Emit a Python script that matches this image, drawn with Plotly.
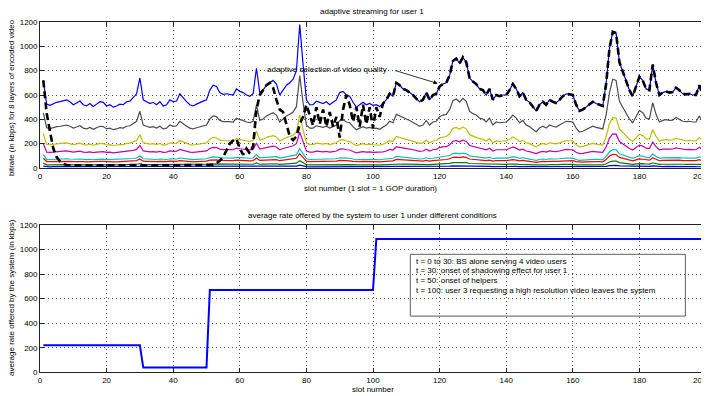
import plotly.graph_objects as go

slots = list(range(1, 201))

# cumulative bitrate of each of the 8 layers (kbps), layer 1 (lowest) .. layer 8 (highest)
layer1 = [15, 11, 10, 11, 11, 11, 11, 11, 11, 10,
          11, 11, 10, 10, 11, 10, 11, 11, 11, 10,
          10, 10, 10, 11, 10, 11, 11, 12, 12, 15,
          11, 11, 11, 11, 10, 11, 10, 10, 11, 11,
          11, 12, 12, 11, 10, 10, 11, 11, 11, 11,
          13, 14, 13, 12, 12, 12, 12, 12, 13, 13,
          12, 12, 12, 12, 16, 12, 13, 14, 14, 14,
          14, 12, 13, 14, 14, 15, 16, 24, 17, 11,
          10, 10, 11, 11, 11, 11, 10, 11, 11, 12,
          13, 12, 12, 11, 10, 10, 11, 10, 11, 10,
          10, 10, 11, 11, 12, 12, 14, 14, 13, 13,
          12, 12, 11, 11, 11, 12, 11, 12, 12, 13,
          14, 14, 15, 18, 18, 17, 18, 17, 15, 14,
          14, 13, 13, 12, 13, 11, 12, 12, 12, 12,
          13, 14, 13, 12, 12, 11, 11, 10, 9, 10,
          11, 10, 11, 11, 11, 11, 12, 12, 12, 12,
          10, 9, 10, 10, 10, 11, 11, 10, 10, 14,
          20, 22, 22, 17, 16, 14, 13, 12, 13, 15,
          14, 13, 13, 17, 14, 12, 12, 13, 12, 13,
          13, 13, 12, 12, 12, 12, 12, 14, 12, 9]
layer2 = [40, 26, 26, 27, 27, 27, 28, 28, 27, 26,
          27, 28, 26, 26, 27, 25, 26, 27, 27, 26,
          26, 25, 26, 26, 26, 27, 28, 29, 31, 37,
          28, 27, 27, 27, 26, 27, 26, 26, 28, 27,
          28, 31, 29, 27, 26, 26, 26, 27, 28, 28,
          32, 34, 34, 31, 30, 31, 30, 30, 33, 32,
          31, 30, 30, 31, 41, 31, 32, 34, 35, 36,
          35, 30, 32, 34, 35, 37, 40, 59, 43, 28,
          26, 26, 28, 27, 27, 27, 26, 27, 28, 31,
          32, 30, 30, 27, 25, 26, 27, 26, 27, 26,
          26, 25, 27, 28, 31, 30, 35, 34, 33, 32,
          31, 30, 29, 27, 28, 31, 28, 30, 31, 34,
          35, 35, 38, 44, 45, 43, 46, 44, 37, 36,
          35, 33, 32, 30, 33, 28, 30, 30, 30, 30,
          32, 35, 33, 30, 31, 28, 27, 25, 24, 26,
          27, 26, 28, 27, 27, 28, 30, 31, 30, 30,
          26, 24, 24, 25, 26, 27, 27, 26, 26, 35,
          49, 56, 56, 44, 40, 36, 32, 30, 34, 38,
          36, 33, 32, 43, 35, 30, 31, 32, 31, 31,
          33, 32, 31, 30, 31, 30, 30, 34, 30, 24]
layer3 = [80, 53, 52, 53, 54, 55, 56, 56, 55, 52,
          54, 55, 52, 51, 53, 51, 53, 55, 54, 51,
          52, 50, 51, 53, 52, 55, 55, 58, 61, 74,
          56, 55, 53, 54, 52, 55, 51, 52, 56, 55,
          55, 61, 58, 55, 52, 51, 53, 54, 55, 56,
          64, 68, 67, 62, 61, 61, 61, 60, 65, 63,
          62, 60, 59, 61, 82, 62, 64, 68, 70, 72,
          69, 60, 64, 68, 70, 73, 80, 118, 85, 56,
          52, 52, 55, 54, 53, 55, 52, 54, 56, 62,
          63, 60, 59, 54, 50, 52, 54, 52, 53, 52,
          52, 51, 53, 56, 61, 59, 70, 68, 65, 64,
          62, 60, 57, 55, 56, 62, 56, 60, 61, 67,
          69, 70, 76, 88, 90, 86, 91, 87, 74, 71,
          69, 65, 64, 60, 65, 56, 60, 59, 60, 60,
          64, 69, 65, 59, 62, 56, 54, 50, 47, 52,
          55, 52, 56, 55, 54, 56, 59, 61, 61, 60,
          52, 47, 48, 50, 52, 55, 53, 52, 51, 69,
          98, 112, 111, 87, 79, 72, 64, 59, 67, 75,
          72, 65, 64, 85, 70, 60, 62, 63, 62, 63,
          66, 64, 61, 61, 61, 60, 60, 68, 60, 47]
layer4 = [110, 71, 70, 72, 73, 74, 75, 76, 74, 70,
          72, 74, 70, 69, 72, 68, 71, 74, 73, 69,
          70, 68, 69, 71, 70, 74, 74, 78, 82, 100,
          76, 74, 72, 73, 70, 74, 69, 70, 76, 74,
          74, 82, 78, 74, 70, 69, 71, 73, 74, 76,
          86, 92, 90, 84, 82, 82, 82, 81, 88, 85,
          84, 81, 80, 82, 111, 84, 86, 92, 95, 97,
          93, 81, 86, 92, 95, 99, 108, 159, 115, 76,
          70, 70, 74, 73, 72, 74, 70, 73, 76, 84,
          85, 81, 80, 73, 68, 70, 73, 70, 72, 70,
          70, 68, 72, 76, 82, 80, 95, 92, 88, 86,
          84, 81, 77, 74, 76, 84, 76, 81, 82, 90,
          93, 95, 103, 119, 122, 116, 123, 117, 100, 96,
          93, 88, 86, 81, 88, 76, 81, 80, 81, 81,
          86, 93, 88, 80, 84, 76, 73, 68, 63, 70,
          74, 70, 76, 74, 72, 76, 80, 82, 82, 81,
          70, 63, 65, 68, 70, 74, 72, 70, 69, 93,
          132, 151, 150, 117, 107, 97, 86, 80, 90, 101,
          97, 88, 86, 115, 95, 81, 84, 85, 84, 84,
          89, 86, 82, 82, 82, 81, 81, 92, 81, 63]
layer5 = [200, 131, 129, 133, 135, 136, 139, 140, 136, 130,
          134, 138, 130, 128, 133, 126, 131, 136, 135, 128,
          130, 125, 128, 131, 130, 136, 138, 145, 153, 185,
          140, 136, 133, 135, 130, 136, 128, 130, 140, 136,
          138, 153, 144, 136, 130, 128, 131, 135, 138, 140,
          160, 170, 168, 155, 151, 153, 151, 150, 163, 158,
          155, 150, 148, 153, 205, 155, 160, 170, 175, 180,
          173, 150, 160, 170, 175, 183, 200, 295, 213, 140,
          130, 130, 138, 135, 133, 136, 130, 135, 140, 155,
          158, 150, 148, 135, 125, 130, 135, 130, 133, 129,
          130, 126, 133, 140, 153, 148, 175, 170, 163, 160,
          155, 150, 143, 136, 140, 155, 140, 150, 153, 168,
          173, 175, 190, 220, 225, 215, 228, 218, 185, 178,
          173, 163, 160, 150, 163, 140, 150, 148, 150, 150,
          160, 173, 163, 148, 155, 140, 135, 125, 118, 130,
          136, 130, 140, 136, 134, 140, 148, 153, 151, 150,
          130, 118, 120, 125, 130, 136, 133, 130, 128, 173,
          245, 280, 278, 218, 198, 180, 160, 148, 168, 188,
          180, 163, 160, 213, 175, 150, 155, 158, 155, 156,
          165, 160, 153, 151, 153, 150, 150, 170, 150, 118]
layer6 = [283, 194, 191, 196, 200, 202, 205, 207, 202, 192,
          198, 204, 192, 189, 196, 187, 194, 202, 200, 189,
          192, 185, 189, 194, 192, 202, 204, 215, 226, 274,
          207, 202, 196, 200, 192, 202, 189, 192, 207, 202,
          204, 226, 213, 202, 192, 189, 194, 200, 204, 207,
          237, 252, 248, 229, 224, 226, 224, 222, 241, 233,
          229, 222, 218, 226, 303, 229, 237, 252, 259, 266,
          255, 222, 237, 252, 259, 270, 296, 437, 315, 207,
          192, 192, 204, 200, 196, 202, 192, 200, 207, 229,
          233, 222, 218, 200, 185, 192, 200, 192, 196, 191,
          192, 187, 196, 207, 226, 218, 259, 252, 241, 237,
          229, 222, 211, 202, 207, 229, 207, 222, 226, 248,
          255, 259, 281, 326, 333, 318, 337, 322, 274, 263,
          255, 241, 237, 222, 241, 207, 222, 218, 222, 222,
          237, 255, 241, 218, 229, 207, 200, 185, 174, 192,
          202, 192, 207, 202, 198, 207, 218, 226, 224, 222,
          192, 174, 178, 185, 192, 202, 196, 192, 189, 255,
          363, 414, 411, 322, 292, 266, 237, 218, 248, 278,
          266, 241, 237, 315, 259, 222, 229, 233, 229, 231,
          244, 237, 226, 224, 226, 222, 222, 252, 222, 174]
layer7 = [454, 331, 324, 334, 340, 343, 350, 353, 343, 328,
          337, 347, 328, 321, 334, 318, 331, 343, 340, 321,
          328, 315, 321, 331, 328, 343, 347, 365, 384, 466,
          353, 343, 334, 340, 328, 343, 321, 328, 353, 343,
          347, 384, 362, 343, 328, 321, 331, 340, 347, 353,
          403, 428, 422, 391, 381, 384, 381, 378, 410, 397,
          391, 378, 372, 384, 517, 391, 403, 428, 441, 454,
          435, 378, 403, 428, 441, 460, 504, 760, 536, 353,
          328, 328, 347, 340, 334, 343, 328, 340, 353, 391,
          397, 378, 372, 340, 315, 328, 340, 328, 334, 324,
          328, 318, 334, 353, 384, 372, 441, 428, 410, 403,
          391, 378, 359, 343, 353, 391, 353, 378, 384, 422,
          435, 441, 479, 554, 567, 542, 573, 548, 466, 447,
          435, 410, 403, 378, 410, 353, 378, 372, 378, 378,
          403, 435, 410, 372, 391, 353, 340, 315, 296, 328,
          343, 328, 353, 343, 337, 353, 372, 384, 381, 378,
          328, 296, 302, 315, 328, 343, 334, 328, 321, 435,
          617, 730, 720, 548, 498, 454, 403, 372, 422, 473,
          454, 410, 403, 536, 441, 378, 391, 397, 391, 394,
          416, 403, 384, 381, 384, 378, 378, 428, 378, 296]
layer8 = [720, 525, 515, 530, 540, 545, 555, 560, 545, 520,
          535, 550, 520, 510, 530, 505, 525, 545, 540, 510,
          520, 500, 510, 525, 520, 545, 550, 580, 610, 740,
          560, 545, 530, 540, 520, 545, 510, 520, 560, 545,
          550, 610, 575, 545, 520, 510, 525, 540, 550, 560,
          640, 680, 670, 620, 605, 610, 605, 600, 650, 630,
          620, 600, 590, 610, 820, 620, 640, 680, 700, 720,
          690, 600, 640, 680, 700, 730, 800, 1180, 850, 560,
          520, 520, 550, 540, 530, 545, 520, 540, 560, 620,
          630, 600, 590, 540, 500, 520, 540, 520, 530, 515,
          520, 505, 530, 560, 610, 590, 700, 680, 650, 640,
          620, 600, 570, 545, 560, 620, 560, 600, 610, 670,
          690, 700, 760, 880, 900, 860, 910, 870, 740, 710,
          690, 650, 640, 600, 650, 560, 600, 590, 600, 600,
          640, 690, 650, 590, 620, 560, 540, 500, 470, 520,
          545, 520, 560, 545, 535, 560, 590, 610, 605, 600,
          520, 470, 480, 500, 520, 545, 530, 520, 510, 690,
          980, 1120, 1110, 870, 790, 720, 640, 590, 670, 750,
          720, 650, 640, 850, 700, 600, 620, 630, 620, 625,
          660, 640, 610, 605, 610, 600, 600, 680, 600, 470]

# rate of the adaptively selected video quality (kbps)
selected = [720, 450, 300, 160, 90, 55, 35, 25, 22, 20,
            20, 20, 20, 20, 20, 20, 20, 20, 20, 20,
            20, 20, 20, 20, 20, 20, 20, 22, 24, 28,
            20, 20, 20, 20, 20, 20, 20, 20, 20, 20,
            20, 22, 20, 20, 20, 20, 20, 20, 20, 20,
            22, 26, 40, 60, 90, 140, 200, 225, 240, 160,
            110, 160, 120, 180, 480, 600, 640, 680, 700, 660,
            560, 480, 460, 350, 260, 230, 260, 360, 420, 520,
            430, 350, 500, 360, 480, 340, 460, 340, 420, 250,
            480, 600, 520, 380, 500, 340, 520, 360, 500, 330,
            500, 420, 530, 560, 610, 590, 700, 680, 650, 640,
            620, 600, 570, 545, 560, 620, 560, 600, 610, 670,
            690, 700, 760, 880, 900, 860, 910, 870, 740, 710,
            690, 650, 640, 600, 650, 560, 600, 590, 600, 600,
            640, 690, 650, 590, 620, 560, 540, 500, 470, 520,
            545, 520, 560, 545, 535, 560, 590, 610, 605, 600,
            520, 470, 480, 500, 520, 545, 530, 520, 510, 690,
            980, 1120, 1110, 870, 790, 720, 640, 590, 670, 750,
            720, 650, 640, 850, 700, 600, 620, 630, 620, 625,
            660, 640, 610, 605, 610, 600, 600, 680, 600, 20]

# average rate offered to user 1 (step breakpoints)
rate_slots = [1, 30, 31, 50, 51, 100, 101, 200]
rate_values = [220, 220, 40, 40, 670, 670, 1085, 1085]

events = ["t = 0 to 30: BS alone serving 4 video users",
          "t = 30: onset of shadowing effect for user 1",
          "t = 50: onset of helpers",
          "t = 100: user 3 requesting a high resolution video leaves the system"]

x_ticks = list(range(0, 201, 20))
x_tick_labels = [str(v) for v in x_ticks[:-1]] + [""]   # last label drawn separately
last_x_label = str(x_ticks[-1])
y_ticks = list(range(0, 1201, 200))

layers = [layer1, layer2, layer3, layer4, layer5, layer6, layer7, layer8]
layer_colors = ["#0000FF", "#008000", "#FF0000", "#00BFBF",
                "#BF00BF", "#BFBF00", "#4D4D4D", "#0000FF"]

FONT = "Liberation Sans, Arial, Helvetica, sans-serif"
OFF = 8                      # the page places the figure 8 px from the top-left corner
W, H = 709 - OFF, 396 - OFF
def px(v):                   # window pixel -> figure pixel
    return v - OFF

XL, XR = px(40), px(706)

fig = go.Figure()
for vals, col in zip(layers, layer_colors):
    fig.add_trace(go.Scatter(x=slots, y=vals, mode="lines",
                             line=dict(color=col, width=1.2),
                             xaxis="x", yaxis="y", showlegend=False))
fig.add_trace(go.Scatter(x=slots, y=selected, mode="lines",
                         line=dict(color="black", width=2.6, dash="7px,4px"),
                         xaxis="x", yaxis="y", showlegend=False))
fig.add_trace(go.Scatter(x=rate_slots, y=rate_values, mode="lines",
                         line=dict(color="#0000FF", width=2),
                         xaxis="x2", yaxis="y2", showlegend=False))

axis_common = dict(showgrid=True, gridcolor="#555555", griddash="1px,3px", gridwidth=0.8,
                   zeroline=False, showline=True, linecolor="#222222", linewidth=0.8,
                   mirror="ticks", ticks="inside", ticklen=4, tickcolor="#222222",
                   automargin=False,
                   tickfont=dict(family=FONT, size=8, color="black"))

xdom = [XL / W, XR / W]
def ydom(top, bottom):
    return [1 - px(bottom) / H, 1 - px(top) / H]

fig.update_layout(
    width=W, height=H,
    margin=dict(l=0, r=0, t=0, b=0, autoexpand=False),
    paper_bgcolor="white", plot_bgcolor="white",
    font=dict(family=FONT, size=8, color="black"),
    xaxis=dict(domain=xdom, range=[0, 200], tickvals=x_ticks, ticktext=x_tick_labels,
               anchor="y", **axis_common),
    yaxis=dict(domain=ydom(22, 168), range=[0, 1200], tickvals=y_ticks,
               anchor="x", **axis_common),
    xaxis2=dict(domain=xdom, range=[0, 200], tickvals=x_ticks, ticktext=x_tick_labels,
                anchor="y2", **axis_common),
    yaxis2=dict(domain=ydom(225, 372.3), range=[0, 1200], tickvals=y_ticks,
                anchor="x2", **axis_common),
)

ann = []
def ptext(txt, x, y, angle=0, xanchor="center", size=8):
    ann.append(dict(text=txt, x=px(x) / W, y=1 - px(y) / H, xref="paper", yref="paper",
                    showarrow=False, textangle=angle, xanchor=xanchor, yanchor="middle",
                    font=dict(family=FONT, size=size, color="black")))

ptext("adaptive streaming for user 1", 372, 12)
ptext("slot number (1 slot = 1 GOP duration)", 370, 188)
ptext("bitrate (in kbps) for 8 layers of encoded video", 11, 98, -90, size=7.8)
ptext("average rate offered by the system to user 1 under different conditions", 372, 215)
ptext("slot number", 373, 389)
ptext("average rate offered by the system (in kbps)", 11, 298, -90)
# last x tick label kept inside the window
ptext(last_x_label, 709, 176.5, xanchor="right")
ptext(last_x_label, 709, 380.5, xanchor="right")

# annotation in the top chart
ann.append(dict(text="adaptive selection of video quality", x=67.5, y=811, xref="x", yref="y",
                showarrow=False, xanchor="left", yanchor="middle",
                font=dict(family=FONT, size=8, color="black")))
ann.append(dict(text="", x=119.4, y=695, xref="x", yref="y", ax=106.2, ay=805,
                axref="x", ayref="y", showarrow=True, arrowhead=2, arrowsize=1,
                arrowwidth=0.8, arrowcolor="black"))

# event box text in the bottom chart
for txt, yv in zip(events, [901, 828, 746, 665]):
    ann.append(dict(text=txt, x=112.3, y=yv, xref="x2", yref="y2", showarrow=False,
                    xanchor="left", yanchor="middle",
                    font=dict(family=FONT, size=8, color="black")))

fig.update_layout(annotations=ann)
fig.add_shape(type="rect", xref="x2", yref="y2", x0=111.2, x1=193.8, y0=458, y1=961,
              line=dict(color="#333333", width=0.8), fillcolor="rgba(0,0,0,0)")

fig.write_html("out.html")
